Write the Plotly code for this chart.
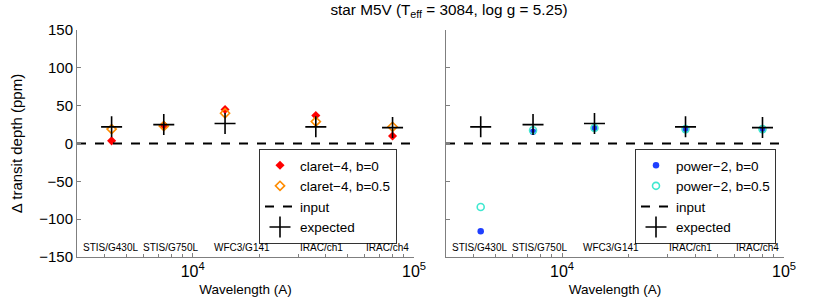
import math
import plotly.graph_objects as go

# ---- data ----
bands = ["STIS/G430L", "STIS/G750L", "WFC3/G141", "IRAC/ch1", "IRAC/ch4"]
wavelength = [4300, 7400, 14000, 36000, 80000]
label_x = [4250, 7900, 16700, 38000, 76000]
expected = [22, 25, 26.5, 22, 21]
claret_b0 = [3.5, 24, 45, 37, 10]
claret_b05 = [19, 23, 40, 29, 22]
power_b0 = [-116, 15.5, 20, 18, 18]
power_b05 = [-84, 17.6, 20.5, 19, 19]
input_depth = 0
x_range = [3000, 100000]
y_ticks = [-150, -100, -50, 0, 50, 100, 150]
x_ticks = [1e4, 1e5]
x_ticktext = ["10<sup>4</sup>", "10<sup>5</sup>"]
minor_ticks = [3000, 4000, 5000, 6000, 7000, 8000, 9000,
               20000, 30000, 40000, 50000, 60000, 70000, 80000, 90000]
label_y = -137

FONT = "Liberation Sans, Arial, sans-serif"
AXC = "#7f7f7f"

fig = go.Figure()

def add_panel(xa, ya, legend, s1, s2):
    fig.add_trace(go.Scatter(x=wavelength, y=s1["y"], mode="markers", name=s1["name"],
                             marker=s1["marker"], xaxis=xa, yaxis=ya, legend=legend))
    fig.add_trace(go.Scatter(x=wavelength, y=s2["y"], mode="markers", name=s2["name"],
                             marker=s2["marker"], xaxis=xa, yaxis=ya, legend=legend))
    fig.add_trace(go.Scatter(x=x_range, y=[input_depth, input_depth], mode="lines", name="input",
                             line=dict(color="black", width=2, dash="dash"),
                             xaxis=xa, yaxis=ya, legend=legend))
    fig.add_trace(go.Scatter(x=wavelength, y=expected, mode="markers", name="expected",
                             marker=dict(symbol="cross-thin", size=15,
                                         line=dict(color="black", width=1.6)),
                             xaxis=xa, yaxis=ya, legend=legend))
    for lx, b in zip(label_x, bands):
        fig.add_annotation(x=math.log10(lx), y=label_y, text=b, showarrow=False,
                           xref=xa, yref=ya, font=dict(size=10, color="black", family=FONT))

add_panel("x", "y", "legend",
          dict(y=claret_b0, name="claret\u22124, b=0",
               marker=dict(symbol="diamond", size=7, color="#ff0000")),
          dict(y=claret_b05, name="claret\u22124, b=0.5",
               marker=dict(symbol="diamond-open", size=7, color="#ff8c00", line=dict(width=1.6))))
add_panel("x2", "y2", "legend2",
          dict(y=power_b0, name="power\u22122, b=0",
               marker=dict(symbol="circle", size=6.5, color="#1f3fff")),
          dict(y=power_b05, name="power\u22122, b=0.5",
               marker=dict(symbol="circle-open", size=7, color="#40e8d0", line=dict(width=1.6))))

xaxis_common = dict(type="log", range=[math.log10(x_range[0]), math.log10(x_range[1])],
                    tickvals=x_ticks, ticktext=x_ticktext, ticks="inside", ticklen=4,
                    tickcolor=AXC, showline=True, linecolor=AXC, linewidth=1,
                    showgrid=False, zeroline=False, automargin=False,
                    tickfont=dict(size=16, color="black", family=FONT),
                    minor=dict(tickvals=minor_ticks, ticks="inside", ticklen=3, tickcolor=AXC,
                               showgrid=False),
                    title=dict(text="Wavelength (A)", font=dict(size=13.5, color="black", family=FONT),
                               standoff=5))
yaxis_common = dict(range=[-150, 150], tickvals=y_ticks, ticks="inside", ticklen=4,
                    tickcolor=AXC, showline=True, linecolor=AXC, linewidth=1,
                    showgrid=False, zeroline=False, automargin=False,
                    tickfont=dict(size=15, color="black", family=FONT))

y_dom = [1 - 257 / 303, 1 - 30 / 303]
legend_common = dict(y=1 - 149 / 303, xanchor="right", yanchor="top",
                     bordercolor="#333333", borderwidth=1, bgcolor="white",
                     font=dict(size=13.5, family=FONT), tracegroupgap=0, itemwidth=30)
fig.update_layout(
    width=830, height=303,
    margin=dict(l=0, r=0, t=0, b=0, autoexpand=False),
    paper_bgcolor="white", plot_bgcolor="white",
    font=dict(family=FONT, color="black"),
    xaxis=dict(domain=[77 / 830, 414 / 830], anchor="y", **xaxis_common),
    yaxis=dict(domain=y_dom, anchor="x",
               title=dict(text="\u0394 transit depth (ppm)", font=dict(size=15, color="black"),
                          standoff=12),
               **yaxis_common),
    xaxis2=dict(domain=[446 / 830, 784 / 830], anchor="y2", **xaxis_common),
    yaxis2=dict(domain=y_dom, anchor="x2", showticklabels=False, **yaxis_common),
    title=dict(text="star M5V (T<sub>eff</sub> = 3084, log g = 5.25)", x=449 / 830, xanchor="center",
               y=0.985, yanchor="top", automargin=False,
               font=dict(size=15.3, color="black", family=FONT)),
    legend=dict(x=397 / 830, **legend_common),
    legend2=dict(x=776 / 830, **legend_common),
    showlegend=True,
)

fig.write_html("out.html", config={"displayModeBar": False},
               post_script="document.body.style.margin='0';document.body.style.padding='0';")
